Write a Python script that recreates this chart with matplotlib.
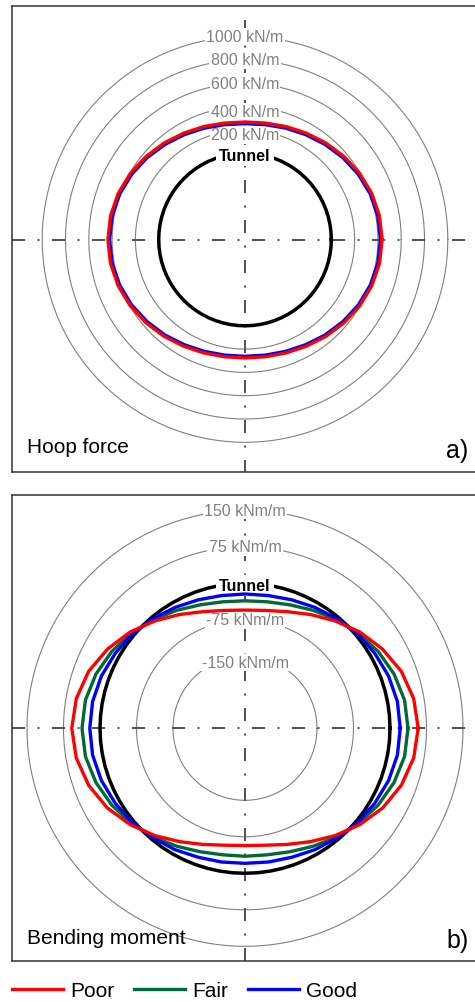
import numpy as np
import matplotlib
matplotlib.use('Agg')
import matplotlib.pyplot as plt

plt.rcParams['font.family'] = ['Liberation Sans', 'DejaVu Sans']
plt.rcParams['lines.scale_dashes'] = False

# ---------------- data ----------------
angles_deg = [0, 10, 20, 30, 40, 50, 60, 70, 80, 90, 100, 110, 120, 130, 140, 150, 160, 170,
              180, 190, 200, 210, 220, 230, 240, 250, 260, 270, 280, 290, 300, 310, 320, 330, 340, 350]

series_names = ['Poor', 'Fair', 'Good']
series_colors = ['#ff0000', '#006a36', '#0000ff']

# Hoop force (kN/m)
hoop_poor = [436, 431, 417, 395, 368, 340, 313, 291, 274, 268, 274, 291, 313, 340, 368, 395, 417, 431,
             436, 432, 418, 397, 370, 343, 316, 295, 281, 276, 281, 295, 316, 343, 370, 397, 418, 432]
hoop_fair = [429, 424, 410, 388, 361, 333, 306, 284, 267, 261, 267, 284, 306, 333, 361, 388, 410, 424,
             429, 425, 411, 390, 363, 336, 309, 288, 274, 269, 274, 288, 309, 336, 363, 390, 411, 425]
hoop_good = [422, 417, 403, 381, 354, 326, 299, 277, 260, 254, 260, 277, 299, 326, 354, 381, 403, 417,
             422, 418, 404, 383, 356, 329, 302, 281, 267, 262, 267, 281, 302, 329, 356, 383, 404, 418]
hoop_rings = [200, 400, 600, 800, 1000]
hoop_ring_labels = ['200 kN/m', '400 kN/m', '600 kN/m', '800 kN/m', '1000 kN/m']

# Bending moment (kNm/m)
moment_poor = [58, 54, 44, 28, 10, -10, -28, -43, -52, -55, -52, -43, -28, -10, 10, 28, 44, 54,
               58, 54, 44, 29, 10, -10, -29, -44, -54, -57, -54, -44, -29, -10, 10, 29, 44, 54]
moment_fair = [37, 35, 28, 18, 6, -6, -18, -28, -34, -36, -34, -28, -18, -6, 6, 18, 28, 35,
               37, 35, 28, 18, 6, -6, -18, -28, -34, -35, -34, -28, -18, -6, 6, 18, 28, 35]
moment_good = [21, 20, 16, 10, 4, -4, -11, -17, -21, -22, -21, -17, -11, -4, 4, 10, 16, 20,
               21, 20, 16, 10, 4, -4, -10, -16, -19, -20.5, -19, -16, -10, -4, 4, 10, 16, 20]
moment_rings = [-150, -75, 75, 150]
moment_ring_labels = ['-150 kNm/m', '-75 kNm/m', '75 kNm/m', '150 kNm/m']

panel_titles = ['Hoop force', 'Bending moment']
panel_tags = ['a)', 'b)']

# ---------------- figure ----------------
W, H = 475, 1003
fig = plt.figure(figsize=(W / 100, H / 100), dpi=100)

RING_COLOR = '#808080'
DASH_COLOR = '#505050'
DASHES = [9.4, 9.0, 1.4, 9.0]


def make_axes(top_px, bottom_px, cy_px):
    left_px, right_px = 11.5, 480.0
    cx_px = 245.0
    ax = fig.add_axes([left_px / W, 1 - bottom_px / H, (right_px - left_px) / W, (bottom_px - top_px) / H])
    ax.set_xlim(left_px - cx_px, right_px - cx_px)
    ax.set_ylim(cy_px - bottom_px, cy_px - top_px)
    ax.set_xticks([])
    ax.set_yticks([])
    for s in ax.spines.values():
        s.set_color('#333333')
        s.set_linewidth(1.1)
    # dash-dot axes
    ytop = cy_px - top_px - 13.4
    ax.plot([0, 0], [ytop, -400], color=DASH_COLOR, lw=1.4, dashes=DASHES, zorder=2)
    ax.plot([left_px - cx_px, 400], [0, 0], color=DASH_COLOR, lw=1.4, dashes=DASHES, zorder=2)
    return ax


def curve_xy(values, r0, scale):
    th = np.radians(list(angles_deg) + [360])
    v = np.array(list(values) + [values[0]], dtype=float)
    r = r0 + scale * v
    return r * np.cos(th), r * np.sin(th)


def draw_panel(ax, r0, scale, rings, ring_labels, label_nudge, series, title, tag, title_y, tag_y):
    t = np.linspace(0, 2 * np.pi, 241)
    for val, lab in zip(rings, ring_labels):
        r = r0 + scale * val
        ax.plot(r * np.cos(t), r * np.sin(t), color=RING_COLOR, lw=0.8, zorder=1)
        ax.text(0, r - label_nudge.get(val, 0), lab, ha='center', va='center', fontsize=11.5,
                color='#808080', zorder=4,
                bbox=dict(boxstyle='square,pad=0.08', fc='white', ec='none'))
    # tunnel
    tt = np.linspace(0, 2 * np.pi, 73)
    ax.plot(r0 * np.cos(tt), r0 * np.sin(tt), color='black', lw=2.5, zorder=3)
    ax.text(0, r0 - 2.5, 'Tunnel', ha='center', va='center', fontsize=11.5, fontweight='bold',
            color='black', zorder=4,
            bbox=dict(boxstyle='square,pad=0.2', fc='white', ec='none'))
    # draw order: Fair, Good, Poor (Poor on top)
    order = [1, 2, 0]
    hd = {}
    for k, i in enumerate(order):
        x, y = curve_xy(series[i], r0, scale)
        ln, = ax.plot(x, y, color=series_colors[i], lw=2.4, zorder=5 + k * 0.1)
        hd[i] = ln
    ax.text(-217.7, title_y, title, ha='left', va='baseline', fontsize=15, color='black', zorder=6)
    ax.text(223.3, tag_y, tag, ha='right', va='baseline', fontsize=18, color='black', zorder=6)
    return [hd[0], hd[1], hd[2]]


axA = make_axes(7.3, 472.7, 240.5)
draw_panel(axA, 86.3, 23.3 / 200.0, hoop_rings, hoop_ring_labels, {200: 5, 400: 5},
           [hoop_poor, hoop_fair, hoop_good], panel_titles[0], panel_tags[0], -212.8, -217.7)

axB = make_axes(496.0, 961.7, 729.3)
handles = draw_panel(axB, 145.0, 36.5 / 75.0, moment_rings, moment_ring_labels, {-150: 6},
                     [moment_poor, moment_fair, moment_good], panel_titles[1], panel_tags[1],
                     -214.7, -219.0)

fig.legend(handles, series_names, loc='center left', bbox_to_anchor=(12 / W, 1 - 992 / H),
           ncol=3, frameon=False, fontsize=15, handlelength=2.45, handletextpad=0.34,
           columnspacing=0.96, borderpad=0, borderaxespad=0)

fig.savefig('out.png', dpi=100)
